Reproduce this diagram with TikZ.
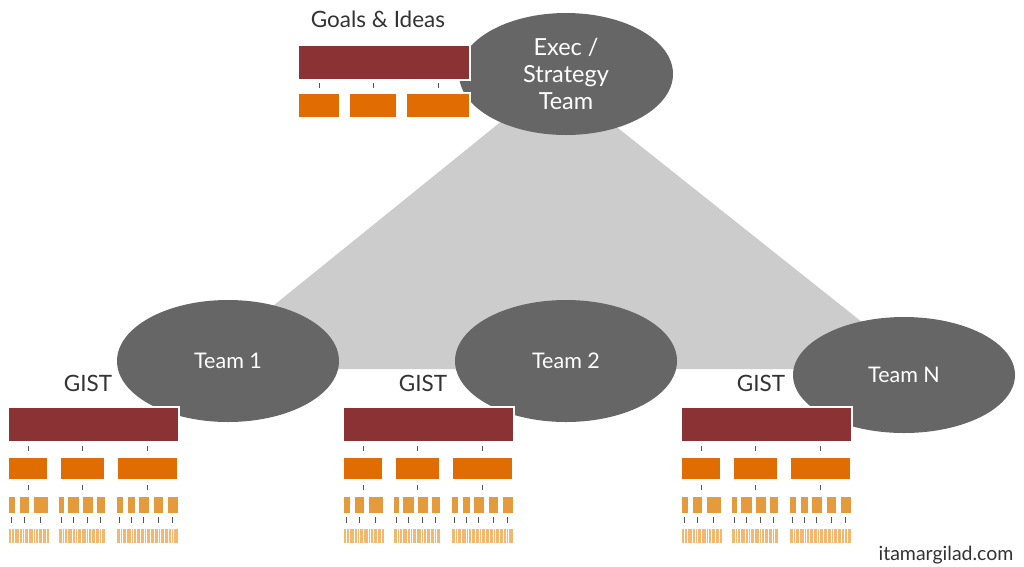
\documentclass[tikz,border=0pt]{standalone}
\usepackage{fontspec}
\setmainfont{Lato}
\usetikzlibrary{calc,shapes.geometric}
\definecolor{rbcol}{RGB}{139,50,52}
\definecolor{obcol}{RGB}{224,108,2}
\definecolor{sbcol}{RGB}{229,154,60}
\definecolor{stcol}{RGB}{243,184,110}
\definecolor{ellcol}{RGB}{102,102,102}
\definecolor{tricol}{RGB}{204,204,204}
\definecolor{txtcol}{RGB}{51,51,51}
\definecolor{tickcol}{RGB}{85,85,85}
\newcommand\myfs[2]{\fontsize{#1}{#2}\selectfont}
\tikzset{
  box/.style={rectangle, draw=white, line width=1.2pt, inner sep=0pt, outer sep=0pt},
  rb/.style={box, fill=rbcol},
  ob/.style={box, fill=obcol},
  sb/.style={box, fill=sbcol, line width=0.3pt},
  stb/.style={box, fill=stcol, line width=0.3pt},
  tick/.style={draw=tickcol, line width=0.9pt},
  team/.style={ellipse, fill=ellcol, inner sep=0pt, text=white, align=center},
  lbl/.style={text=txtcol, inner sep=0pt},
}
\newcommand\mybox[6]{%
  \node[#1, minimum width={(#4)-(#3)}, minimum height={(#6)-(#5)}] (#2) at ({((#3)+(#4))/2},{((#5)+(#6))/2}) {};}
\newcommand\giststack[2]{%
  \node[lbl, font=\myfs{22.5}{26}] (#1t) at (#2+88,383) {GIST};
  \mybox{rb}{#1r}{#2+8}{#2+179}{407}{442}
  \foreach \a/\b [count=\i] in {8/48,60/105,117/178}{
    \mybox{ob}{#1o\i}{#2+\a}{#2+\b}{457}{480}
    \draw[tick] ($(#1o\i.north)+(0,-6)$) -- ++(0,-5);
    \draw[tick] ($(#1o\i.south)+(0,5)$) -- ++(0,5);
  }
  \foreach \a/\b [count=\j] in {8/15,19/29,33/48,58/64,67/79,82/93,96/105,116/123,127/135,138/149,153/163,167/178}{
    \mybox{sb}{#1s\j}{#2+\a}{#2+\b}{496}{513}
    \draw[tick] ($(#1s\j.south)+(0,4)$) -- ++(0,6);
  }
  \foreach \a/\b [count=\i] in {8/49,58/105,116/178}{
    \mybox{stb}{#1b\i}{#2+\a}{#2+\b}{528}{543}
    \pgfmathtruncatemacro\nn{(\b-\a)/3.6}
    \foreach \k in {1,...,\nn}{
      \pgfmathsetmacro\xx{#2+\a+\k*(\b-\a)/(\nn+1)+0.9*sin(\k*97+\a*13)}
      \draw[white, line width=0.35pt] (\xx,528) -- (\xx,543);
    }
  }
}
\begin{document}
\begin{tikzpicture}[x=1pt,y=-1pt]
\useasboundingbox[fill=white] (0,0) rectangle (1024,566);
% triangle
\fill[tricol] (555,78) -- (195,369) -- (921,369) -- cycle;
% ellipses
\node[team, minimum width=214pt, minimum height=122pt, font=\myfs{23.5}{27}] (exec) at (566,74) {Exec /\\Strategy\\Team};
\node[team, minimum width=222pt, minimum height=122pt, font=\myfs{21.5}{25}] (t1) at (228,361) {Team 1};
\node[team, minimum width=222pt, minimum height=122pt, font=\myfs{21.5}{25}] (t2) at (566,361) {Team 2};
\node[team, minimum width=222pt, minimum height=116pt, font=\myfs{21.5}{25}] (tn) at (904,375) {Team N};
% goals & ideas
\node[lbl, font=\myfs{22.5}{26}] (goals) at (378,19) {Goals \& Ideas};
\mybox{rb}{gr}{298}{470}{45}{80}
\foreach \a/\b [count=\i] in {298/340,349/397,406/470}{
  \mybox{ob}{go\i}{\a}{\b}{93}{118}
  \draw[tick] ($(go\i.north)+(0,-5)$) -- ++(0,-5);
}
% gist stacks
\giststack{sa}{0}
\giststack{sb}{335}
\giststack{sc}{673}
\node[lbl, font=\myfs{19.5}{23}] (site) at (946,555) {itamargilad.com};
\end{tikzpicture}
\end{document}
